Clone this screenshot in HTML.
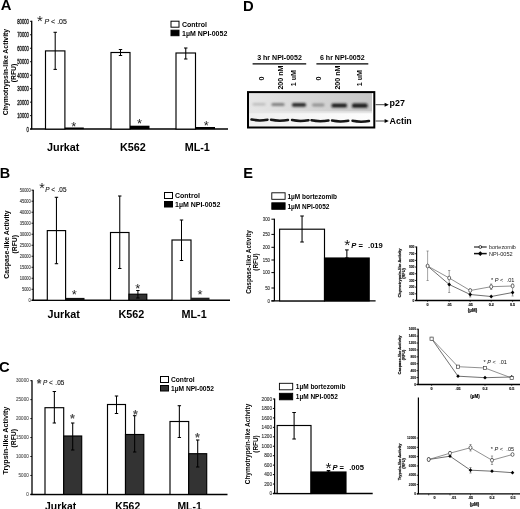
<!DOCTYPE html>
<html><head><meta charset="utf-8"><title>Figure</title>
<style>
html,body{margin:0;padding:0;background:#fff;}
body{width:520px;height:509px;overflow:hidden;font-family:"Liberation Sans",sans-serif;}
svg{display:block;}
</style></head><body>
<svg width="520" height="509" viewBox="0 0 520 509" font-family="Liberation Sans, sans-serif">
<rect width="520" height="509" fill="#fff"/>
<text x="0.75" y="9.9" font-size="14.8" font-weight="bold" font-style="normal" text-anchor="start" fill="#000" >A</text>
<text x="-0.35" y="178.4" font-size="14.4" font-weight="bold" font-style="normal" text-anchor="start" fill="#000" >B</text>
<text x="-1.1" y="371.9" font-size="14.8" font-weight="bold" font-style="normal" text-anchor="start" fill="#000" >C</text>
<text x="242.95" y="10.8" font-size="14.8" font-weight="bold" font-style="normal" text-anchor="start" fill="#000" >D</text>
<text x="243.25" y="178" font-size="14.6" font-weight="bold" font-style="normal" text-anchor="start" fill="#000" >E</text>
<line x1="31.7" y1="20.8" x2="31.7" y2="129.1" stroke="#000" stroke-width="1.3"/>
<line x1="30.2" y1="129.1" x2="228" y2="129.1" stroke="#000" stroke-width="1.5"/>
<line x1="30.0" y1="129.1" x2="31.7" y2="129.1" stroke="#000" stroke-width="0.9"/>
<text transform="translate(28.9,131.62) scale(0.6,1)" font-size="7" font-weight="normal" text-anchor="end" fill="#222" stroke="#222" stroke-width="0.3" vector-effect="non-scaling-stroke">0</text>
<line x1="30.0" y1="115.625" x2="31.7" y2="115.625" stroke="#000" stroke-width="0.9"/>
<text transform="translate(28.9,118.145) scale(0.6,1)" font-size="7" font-weight="normal" text-anchor="end" fill="#222" stroke="#222" stroke-width="0.3" vector-effect="non-scaling-stroke">10000</text>
<line x1="30.0" y1="102.14999999999999" x2="31.7" y2="102.14999999999999" stroke="#000" stroke-width="0.9"/>
<text transform="translate(28.9,104.66999999999999) scale(0.6,1)" font-size="7" font-weight="normal" text-anchor="end" fill="#222" stroke="#222" stroke-width="0.3" vector-effect="non-scaling-stroke">20000</text>
<line x1="30.0" y1="88.675" x2="31.7" y2="88.675" stroke="#000" stroke-width="0.9"/>
<text transform="translate(28.9,91.195) scale(0.6,1)" font-size="7" font-weight="normal" text-anchor="end" fill="#222" stroke="#222" stroke-width="0.3" vector-effect="non-scaling-stroke">30000</text>
<line x1="30.0" y1="75.19999999999999" x2="31.7" y2="75.19999999999999" stroke="#000" stroke-width="0.9"/>
<text transform="translate(28.9,77.71999999999998) scale(0.6,1)" font-size="7" font-weight="normal" text-anchor="end" fill="#222" stroke="#222" stroke-width="0.3" vector-effect="non-scaling-stroke">40000</text>
<line x1="30.0" y1="61.724999999999994" x2="31.7" y2="61.724999999999994" stroke="#000" stroke-width="0.9"/>
<text transform="translate(28.9,64.24499999999999) scale(0.6,1)" font-size="7" font-weight="normal" text-anchor="end" fill="#222" stroke="#222" stroke-width="0.3" vector-effect="non-scaling-stroke">50000</text>
<line x1="30.0" y1="48.25" x2="31.7" y2="48.25" stroke="#000" stroke-width="0.9"/>
<text transform="translate(28.9,50.77) scale(0.6,1)" font-size="7" font-weight="normal" text-anchor="end" fill="#222" stroke="#222" stroke-width="0.3" vector-effect="non-scaling-stroke">60000</text>
<line x1="30.0" y1="34.77499999999999" x2="31.7" y2="34.77499999999999" stroke="#000" stroke-width="0.9"/>
<text transform="translate(28.9,37.294999999999995) scale(0.6,1)" font-size="7" font-weight="normal" text-anchor="end" fill="#222" stroke="#222" stroke-width="0.3" vector-effect="non-scaling-stroke">70000</text>
<line x1="30.0" y1="21.299999999999997" x2="31.7" y2="21.299999999999997" stroke="#000" stroke-width="0.9"/>
<text transform="translate(28.9,23.819999999999997) scale(0.6,1)" font-size="7" font-weight="normal" text-anchor="end" fill="#222" stroke="#222" stroke-width="0.3" vector-effect="non-scaling-stroke">80000</text>
<rect x="45.5" y="50.9" width="19.4" height="78.19999999999999" fill="#fff" stroke="#000" stroke-width="1.15"/>
<line x1="55.2" y1="32.3" x2="55.2" y2="69.4" stroke="#000" stroke-width="1.05"/>
<line x1="53.5" y1="32.3" x2="56.900000000000006" y2="32.3" stroke="#000" stroke-width="1.05"/>
<line x1="53.5" y1="69.4" x2="56.900000000000006" y2="69.4" stroke="#000" stroke-width="1.05"/>
<rect x="64.9" y="127.5" width="18.9" height="1.6" fill="#000"/>
<rect x="111" y="52.5" width="19" height="76.6" fill="#fff" stroke="#000" stroke-width="1.15"/>
<line x1="120.5" y1="49.5" x2="120.5" y2="55.5" stroke="#000" stroke-width="1.05"/>
<line x1="118.8" y1="49.5" x2="122.2" y2="49.5" stroke="#000" stroke-width="1.05"/>
<line x1="118.8" y1="55.5" x2="122.2" y2="55.5" stroke="#000" stroke-width="1.05"/>
<rect x="130" y="125.7" width="19.5" height="3.4" fill="#000"/>
<rect x="176" y="53" width="19.5" height="76.1" fill="#fff" stroke="#000" stroke-width="1.15"/>
<line x1="185.75" y1="48" x2="185.75" y2="59" stroke="#000" stroke-width="1.05"/>
<line x1="184.05" y1="48" x2="187.45" y2="48" stroke="#000" stroke-width="1.05"/>
<line x1="184.05" y1="59" x2="187.45" y2="59" stroke="#000" stroke-width="1.05"/>
<rect x="195.5" y="127.0" width="19.5" height="2.1" fill="#000"/>
<text transform="translate(7.9,72) rotate(-90) scale(0.93,1)" font-size="7.4" font-weight="bold" text-anchor="middle" fill="#000">Chymotrypsin-like Activity</text>
<text transform="translate(15.9,73) rotate(-90) scale(0.93,1)" font-size="7.3" font-weight="bold" text-anchor="middle" fill="#000">(RFU)</text>
<text x="63.25" y="151.2" font-size="10.8" font-weight="bold" font-style="normal" text-anchor="middle" fill="#000" >Jurkat</text>
<text x="132.9" y="151.2" font-size="10.8" font-weight="bold" font-style="normal" text-anchor="middle" fill="#000" >K562</text>
<text x="197.3" y="151.2" font-size="10.8" font-weight="bold" font-style="normal" text-anchor="middle" fill="#000" >ML-1</text>
<rect x="171" y="21.2" width="8" height="6" fill="#fff" stroke="#000" stroke-width="1"/>
<rect x="171" y="30.2" width="8" height="5.5" fill="#000" stroke="#000" stroke-width="1"/>
<text x="182" y="27.0" font-size="7" font-weight="bold" font-style="normal" text-anchor="start" fill="#000" >Control</text>
<text x="182" y="35.7" font-size="7" font-weight="bold" font-style="normal" text-anchor="start" fill="#000" >1µM NPI-0052</text>
<text x="71.18" y="130.83" font-size="12.92" font-weight="normal" fill="#222">*</text>
<text x="136.98" y="127.93" font-size="12.92" font-weight="normal" fill="#222">*</text>
<text x="203.68" y="129.93" font-size="12.92" font-weight="normal" fill="#222">*</text>
<text x="37.0" y="26.24" font-size="14.89" font-weight="normal" fill="#222">*</text>
<text x="44.5" y="24" font-size="7" fill="#111" stroke="#111" stroke-width="0.12"><tspan font-style="italic">P</tspan> &lt; .05</text>
<line x1="33.2" y1="189.7" x2="33.2" y2="300.3" stroke="#000" stroke-width="1.3"/>
<line x1="31.700000000000003" y1="300.3" x2="230" y2="300.3" stroke="#000" stroke-width="1.5"/>
<line x1="31.500000000000004" y1="300.3" x2="33.2" y2="300.3" stroke="#000" stroke-width="0.9"/>
<text transform="translate(30.800000000000004,301.992) scale(0.85,1)" font-size="4.7" font-weight="normal" text-anchor="end" fill="#444" stroke="#444" stroke-width="0.12" vector-effect="non-scaling-stroke">0</text>
<line x1="31.500000000000004" y1="289.29" x2="33.2" y2="289.29" stroke="#000" stroke-width="0.9"/>
<text transform="translate(30.800000000000004,290.982) scale(0.85,1)" font-size="4.7" font-weight="normal" text-anchor="end" fill="#444" stroke="#444" stroke-width="0.12" vector-effect="non-scaling-stroke">5000</text>
<line x1="31.500000000000004" y1="278.28000000000003" x2="33.2" y2="278.28000000000003" stroke="#000" stroke-width="0.9"/>
<text transform="translate(30.800000000000004,279.97200000000004) scale(0.85,1)" font-size="4.7" font-weight="normal" text-anchor="end" fill="#444" stroke="#444" stroke-width="0.12" vector-effect="non-scaling-stroke">10000</text>
<line x1="31.500000000000004" y1="267.27" x2="33.2" y2="267.27" stroke="#000" stroke-width="0.9"/>
<text transform="translate(30.800000000000004,268.962) scale(0.85,1)" font-size="4.7" font-weight="normal" text-anchor="end" fill="#444" stroke="#444" stroke-width="0.12" vector-effect="non-scaling-stroke">15000</text>
<line x1="31.500000000000004" y1="256.26" x2="33.2" y2="256.26" stroke="#000" stroke-width="0.9"/>
<text transform="translate(30.800000000000004,257.952) scale(0.85,1)" font-size="4.7" font-weight="normal" text-anchor="end" fill="#444" stroke="#444" stroke-width="0.12" vector-effect="non-scaling-stroke">20000</text>
<line x1="31.500000000000004" y1="245.25" x2="33.2" y2="245.25" stroke="#000" stroke-width="0.9"/>
<text transform="translate(30.800000000000004,246.942) scale(0.85,1)" font-size="4.7" font-weight="normal" text-anchor="end" fill="#444" stroke="#444" stroke-width="0.12" vector-effect="non-scaling-stroke">25000</text>
<line x1="31.500000000000004" y1="234.24" x2="33.2" y2="234.24" stroke="#000" stroke-width="0.9"/>
<text transform="translate(30.800000000000004,235.93200000000002) scale(0.85,1)" font-size="4.7" font-weight="normal" text-anchor="end" fill="#444" stroke="#444" stroke-width="0.12" vector-effect="non-scaling-stroke">30000</text>
<line x1="31.500000000000004" y1="223.23000000000002" x2="33.2" y2="223.23000000000002" stroke="#000" stroke-width="0.9"/>
<text transform="translate(30.800000000000004,224.92200000000003) scale(0.85,1)" font-size="4.7" font-weight="normal" text-anchor="end" fill="#444" stroke="#444" stroke-width="0.12" vector-effect="non-scaling-stroke">35000</text>
<line x1="31.500000000000004" y1="212.22" x2="33.2" y2="212.22" stroke="#000" stroke-width="0.9"/>
<text transform="translate(30.800000000000004,213.912) scale(0.85,1)" font-size="4.7" font-weight="normal" text-anchor="end" fill="#444" stroke="#444" stroke-width="0.12" vector-effect="non-scaling-stroke">40000</text>
<line x1="31.500000000000004" y1="201.20999999999998" x2="33.2" y2="201.20999999999998" stroke="#000" stroke-width="0.9"/>
<text transform="translate(30.800000000000004,202.902) scale(0.85,1)" font-size="4.7" font-weight="normal" text-anchor="end" fill="#444" stroke="#444" stroke-width="0.12" vector-effect="non-scaling-stroke">45000</text>
<line x1="31.500000000000004" y1="190.2" x2="33.2" y2="190.2" stroke="#000" stroke-width="0.9"/>
<text transform="translate(30.800000000000004,191.892) scale(0.85,1)" font-size="4.7" font-weight="normal" text-anchor="end" fill="#444" stroke="#444" stroke-width="0.12" vector-effect="non-scaling-stroke">50000</text>
<rect x="47.3" y="230.6" width="18.3" height="69.70000000000002" fill="#fff" stroke="#000" stroke-width="1.15"/>
<line x1="56.449999999999996" y1="197.3" x2="56.449999999999996" y2="263.7" stroke="#000" stroke-width="1.05"/>
<line x1="54.74999999999999" y1="197.3" x2="58.15" y2="197.3" stroke="#000" stroke-width="1.05"/>
<line x1="54.74999999999999" y1="263.7" x2="58.15" y2="263.7" stroke="#000" stroke-width="1.05"/>
<rect x="65.6" y="297.9" width="18.9" height="2.4" fill="#111"/>
<rect x="110.5" y="232.5" width="18.5" height="67.80000000000001" fill="#fff" stroke="#000" stroke-width="1.15"/>
<line x1="119.75" y1="196" x2="119.75" y2="268.5" stroke="#000" stroke-width="1.05"/>
<line x1="118.05" y1="196" x2="121.45" y2="196" stroke="#000" stroke-width="1.05"/>
<line x1="118.05" y1="268.5" x2="121.45" y2="268.5" stroke="#000" stroke-width="1.05"/>
<rect x="129" y="294.2" width="17.8" height="6.100000000000023" fill="#333" stroke="#000" stroke-width="1.15"/>
<line x1="137.9" y1="290.5" x2="137.9" y2="298" stroke="#000" stroke-width="1.05"/>
<line x1="136.20000000000002" y1="290.5" x2="139.6" y2="290.5" stroke="#000" stroke-width="1.05"/>
<line x1="136.20000000000002" y1="298" x2="139.6" y2="298" stroke="#000" stroke-width="1.05"/>
<rect x="172" y="240" width="19" height="60.30000000000001" fill="#fff" stroke="#000" stroke-width="1.15"/>
<line x1="181.5" y1="220" x2="181.5" y2="260.5" stroke="#000" stroke-width="1.05"/>
<line x1="179.8" y1="220" x2="183.2" y2="220" stroke="#000" stroke-width="1.05"/>
<line x1="179.8" y1="260.5" x2="183.2" y2="260.5" stroke="#000" stroke-width="1.05"/>
<rect x="191" y="297.7" width="18.5" height="2.6" fill="#222"/>
<text transform="translate(9.2,244.6) rotate(-90) scale(0.93,1)" font-size="7.4" font-weight="bold" text-anchor="middle" fill="#000">Caspase-like Activity</text>
<text transform="translate(16.8,244.3) rotate(-90) scale(0.93,1)" font-size="7.3" font-weight="bold" text-anchor="middle" fill="#000">(RFU)</text>
<text x="63.6" y="318.2" font-size="10.8" font-weight="bold" font-style="normal" text-anchor="middle" fill="#000" >Jurkat</text>
<text x="131.3" y="318.2" font-size="10.8" font-weight="bold" font-style="normal" text-anchor="middle" fill="#000" >K562</text>
<text x="194.1" y="318.2" font-size="10.8" font-weight="bold" font-style="normal" text-anchor="middle" fill="#000" >ML-1</text>
<rect x="164.5" y="192.5" width="8" height="6" fill="#fff" stroke="#000" stroke-width="1"/>
<rect x="164.5" y="201.5" width="8" height="5.5" fill="#000" stroke="#000" stroke-width="1"/>
<text x="175" y="198.3" font-size="7" font-weight="bold" font-style="normal" text-anchor="start" fill="#000" >Control</text>
<text x="175" y="207" font-size="7" font-weight="bold" font-style="normal" text-anchor="start" fill="#000" >1µM NPI-0052</text>
<text x="71.68" y="299.13" font-size="12.92" font-weight="normal" fill="#222">*</text>
<text x="135.28" y="292.63" font-size="12.92" font-weight="normal" fill="#222">*</text>
<text x="197.48" y="298.63" font-size="12.92" font-weight="normal" fill="#222">*</text>
<text x="39.36" y="193.3" font-size="14.04" font-weight="normal" fill="#222">*</text>
<text x="45.2" y="192.2" font-size="6.4" fill="#111" stroke="#111" stroke-width="0.12"><tspan font-style="italic">P</tspan> &lt; <tspan dx="0.8">.05</tspan></text>
<line x1="32" y1="380.2" x2="32" y2="494.4" stroke="#000" stroke-width="1.3"/>
<line x1="30.5" y1="494.4" x2="227.5" y2="494.4" stroke="#000" stroke-width="1.5"/>
<line x1="30.3" y1="494.4" x2="32" y2="494.4" stroke="#000" stroke-width="0.9"/>
<text transform="translate(28.7,496.164) scale(0.93,1)" font-size="4.9" font-weight="normal" text-anchor="end" fill="#555" stroke="#555" stroke-width="0.12" vector-effect="non-scaling-stroke">0</text>
<line x1="30.3" y1="475.45" x2="32" y2="475.45" stroke="#000" stroke-width="0.9"/>
<text transform="translate(28.7,477.214) scale(0.93,1)" font-size="4.9" font-weight="normal" text-anchor="end" fill="#555" stroke="#555" stroke-width="0.12" vector-effect="non-scaling-stroke">5000</text>
<line x1="30.3" y1="456.5" x2="32" y2="456.5" stroke="#000" stroke-width="0.9"/>
<text transform="translate(28.7,458.264) scale(0.93,1)" font-size="4.9" font-weight="normal" text-anchor="end" fill="#555" stroke="#555" stroke-width="0.12" vector-effect="non-scaling-stroke">10000</text>
<line x1="30.3" y1="437.54999999999995" x2="32" y2="437.54999999999995" stroke="#000" stroke-width="0.9"/>
<text transform="translate(28.7,439.31399999999996) scale(0.93,1)" font-size="4.9" font-weight="normal" text-anchor="end" fill="#555" stroke="#555" stroke-width="0.12" vector-effect="non-scaling-stroke">15000</text>
<line x1="30.3" y1="418.59999999999997" x2="32" y2="418.59999999999997" stroke="#000" stroke-width="0.9"/>
<text transform="translate(28.7,420.364) scale(0.93,1)" font-size="4.9" font-weight="normal" text-anchor="end" fill="#555" stroke="#555" stroke-width="0.12" vector-effect="non-scaling-stroke">20000</text>
<line x1="30.3" y1="399.65" x2="32" y2="399.65" stroke="#000" stroke-width="0.9"/>
<text transform="translate(28.7,401.414) scale(0.93,1)" font-size="4.9" font-weight="normal" text-anchor="end" fill="#555" stroke="#555" stroke-width="0.12" vector-effect="non-scaling-stroke">25000</text>
<line x1="30.3" y1="380.7" x2="32" y2="380.7" stroke="#000" stroke-width="0.9"/>
<text transform="translate(28.7,382.464) scale(0.93,1)" font-size="4.9" font-weight="normal" text-anchor="end" fill="#555" stroke="#555" stroke-width="0.12" vector-effect="non-scaling-stroke">30000</text>
<rect x="45" y="407.7" width="18.7" height="86.69999999999999" fill="#fff" stroke="#000" stroke-width="1.15"/>
<line x1="54.35" y1="391.5" x2="54.35" y2="423" stroke="#000" stroke-width="1.05"/>
<line x1="52.65" y1="391.5" x2="56.050000000000004" y2="391.5" stroke="#000" stroke-width="1.05"/>
<line x1="52.65" y1="423" x2="56.050000000000004" y2="423" stroke="#000" stroke-width="1.05"/>
<rect x="63.7" y="436" width="18" height="58.39999999999998" fill="#333" stroke="#000" stroke-width="1.15"/>
<line x1="72.7" y1="423" x2="72.7" y2="450" stroke="#000" stroke-width="1.05"/>
<line x1="71.0" y1="423" x2="74.4" y2="423" stroke="#000" stroke-width="1.05"/>
<line x1="71.0" y1="450" x2="74.4" y2="450" stroke="#000" stroke-width="1.05"/>
<rect x="107.5" y="404.5" width="18" height="89.89999999999998" fill="#fff" stroke="#000" stroke-width="1.15"/>
<line x1="116.5" y1="396" x2="116.5" y2="413.5" stroke="#000" stroke-width="1.05"/>
<line x1="114.8" y1="396" x2="118.2" y2="396" stroke="#000" stroke-width="1.05"/>
<line x1="114.8" y1="413.5" x2="118.2" y2="413.5" stroke="#000" stroke-width="1.05"/>
<rect x="125.5" y="434.5" width="18.3" height="59.89999999999998" fill="#333" stroke="#000" stroke-width="1.15"/>
<line x1="134.65" y1="415.7" x2="134.65" y2="452" stroke="#000" stroke-width="1.05"/>
<line x1="132.95000000000002" y1="415.7" x2="136.35" y2="415.7" stroke="#000" stroke-width="1.05"/>
<line x1="132.95000000000002" y1="452" x2="136.35" y2="452" stroke="#000" stroke-width="1.05"/>
<rect x="170" y="421.5" width="18.7" height="72.89999999999998" fill="#fff" stroke="#000" stroke-width="1.15"/>
<line x1="179.35" y1="405.7" x2="179.35" y2="437.5" stroke="#000" stroke-width="1.05"/>
<line x1="177.65" y1="405.7" x2="181.04999999999998" y2="405.7" stroke="#000" stroke-width="1.05"/>
<line x1="177.65" y1="437.5" x2="181.04999999999998" y2="437.5" stroke="#000" stroke-width="1.05"/>
<rect x="188.7" y="453.7" width="18" height="40.69999999999999" fill="#333" stroke="#000" stroke-width="1.15"/>
<line x1="197.7" y1="440" x2="197.7" y2="467" stroke="#000" stroke-width="1.05"/>
<line x1="196.0" y1="440" x2="199.39999999999998" y2="440" stroke="#000" stroke-width="1.05"/>
<line x1="196.0" y1="467" x2="199.39999999999998" y2="467" stroke="#000" stroke-width="1.05"/>
<text transform="translate(8.2,440.6) rotate(-90) scale(0.975,1)" font-size="7.4" font-weight="bold" text-anchor="middle" fill="#000">Trypsin-like Activity</text>
<text transform="translate(16.4,438.3) rotate(-90) scale(0.93,1)" font-size="7.3" font-weight="bold" text-anchor="middle" fill="#000">(RFU)</text>
<text x="60.6" y="509.6" font-size="10.4" font-weight="bold" font-style="normal" text-anchor="middle" fill="#000" >Jurkat</text>
<text x="127.75" y="509.6" font-size="10.4" font-weight="bold" font-style="normal" text-anchor="middle" fill="#000" >K562</text>
<text x="189.6" y="509.6" font-size="10.4" font-weight="bold" font-style="normal" text-anchor="middle" fill="#000" >ML-1</text>
<rect x="160.5" y="376.5" width="8" height="6" fill="#fff" stroke="#000" stroke-width="1"/>
<rect x="160.5" y="385.5" width="8" height="5.5" fill="#333" stroke="#000" stroke-width="1"/>
<text x="171" y="382.3" font-size="6.65" font-weight="bold" font-style="normal" text-anchor="start" fill="#000" >Control</text>
<text x="171" y="391" font-size="6.65" font-weight="bold" font-style="normal" text-anchor="start" fill="#000" >1µM NPI-0052</text>
<text x="70.06" y="422.88" font-size="12.5" font-weight="bold" fill="#555">*</text>
<text x="133.06" y="419.28" font-size="12.5" font-weight="bold" fill="#555">*</text>
<text x="195.06" y="441.78" font-size="12.5" font-weight="bold" fill="#555">*</text>
<text x="36.66" y="387.62" font-size="11.98" font-weight="bold" fill="#444">*</text>
<text x="43" y="385.2" font-size="6.4" fill="#111" stroke="#111" stroke-width="0.12"><tspan font-style="italic">P</tspan> &lt; <tspan dx="0.8">.05</tspan></text>
<defs><linearGradient id="bg" x1="0" x2="1" y1="0" y2="0"><stop offset="0" stop-color="#e6e6e6"/><stop offset="0.5" stop-color="#d6d6d6"/><stop offset="1" stop-color="#c6c6c6"/></linearGradient><linearGradient id="bg2" x1="0" x2="1" y1="0" y2="0"><stop offset="0" stop-color="#f0f0f0"/><stop offset="1" stop-color="#fdfdfd"/></linearGradient><filter id="bl" x="-20%" y="-100%" width="140%" height="300%"><feGaussianBlur stdDeviation="1.2 0.85"/></filter><filter id="bl2" x="-20%" y="-100%" width="140%" height="300%"><feGaussianBlur stdDeviation="0.7 0.4"/></filter></defs>
<rect x="248" y="92.5" width="126" height="35" fill="#fff"/>
<rect x="249" y="93" width="123" height="19.3" fill="url(#bg)"/>
<rect x="249" y="112.3" width="123" height="14.5" fill="url(#bg2)"/>
<rect x="249" y="111.3" width="123" height="2" fill="#e6e6e6" filter="url(#bl2)"/>
<g filter="url(#bl)">
<rect x="252.5" y="103.0" width="13.100000000000023" height="2.6" rx="1.5" fill="#bcbcbc"/>
<rect x="271.4" y="102.9" width="13.200000000000045" height="3" rx="1.5" fill="#808080"/>
<rect x="292" y="102.89999999999999" width="14" height="3.8" rx="1.5" fill="#2a2a2a"/>
<rect x="312" y="103.6" width="12.5" height="2.8" rx="1.5" fill="#909090"/>
<rect x="331.5" y="103.4" width="15.5" height="4" rx="1.5" fill="#1e1e1e"/>
<rect x="352" y="103.5" width="15.600000000000023" height="4.2" rx="1.5" fill="#1a1a1a"/>
</g>
<g filter="url(#bl2)" fill="none" stroke="#161616" stroke-width="2.5" stroke-linecap="round">
<path d="M251.5 119.6 Q259.5 121.2 267.5 119.7"/>
<path d="M271 119.84 Q279.5 121.44 288 119.94"/>
<path d="M292 120.08 Q300.25 121.68 308.5 120.18"/>
<path d="M311.5 120.32 Q320.0 121.92 328.5 120.42"/>
<path d="M332 120.56 Q340.15 122.16 348.3 120.66"/>
<path d="M352.5 120.8 Q360.75 122.4 369 120.9"/>
</g>
<rect x="248" y="92.1" width="126.3" height="35.4" fill="none" stroke="#000" stroke-width="2"/>
<text x="279.5" y="60.2" font-size="7.05" font-weight="bold" font-style="normal" text-anchor="middle" fill="#000" >3 hr NPI-0052</text>
<text x="342.3" y="60.2" font-size="7.05" font-weight="bold" font-style="normal" text-anchor="middle" fill="#000" >6 hr NPI-0052</text>
<line x1="252.6" y1="63.8" x2="306.2" y2="63.8" stroke="#000" stroke-width="1.3"/>
<line x1="316.4" y1="63.8" x2="368.3" y2="63.8" stroke="#000" stroke-width="1.3"/>
<text transform="translate(263.5,80.5) rotate(-90)" font-size="7.1" font-weight="bold">0</text>
<text transform="translate(282.8,89.6) rotate(-90)" font-size="7.1" font-weight="bold">200 nM</text>
<text transform="translate(296,86.2) rotate(-90)" font-size="7.1" font-weight="bold">1 uM</text>
<text transform="translate(320.8,80.5) rotate(-90)" font-size="7.1" font-weight="bold">0</text>
<text transform="translate(339.5,89.6) rotate(-90)" font-size="7.1" font-weight="bold">200 nM</text>
<text transform="translate(361.7,86.2) rotate(-90)" font-size="7.1" font-weight="bold">1 uM</text>
<line x1="375.5" y1="104.7" x2="385" y2="104.7" stroke="#444" stroke-width="1"/>
<polygon points="388.8,104.7 384.6,102.7 384.6,106.7" fill="#000"/>
<line x1="375.5" y1="121" x2="385" y2="121" stroke="#444" stroke-width="1"/>
<polygon points="388.8,121 384.6,119 384.6,123" fill="#000"/>
<text x="389.6" y="105.9" font-size="8.9" font-weight="bold" font-style="normal" text-anchor="start" fill="#000" >p27</text>
<text x="389.6" y="124" font-size="8.9" font-weight="bold" font-style="normal" text-anchor="start" fill="#000" >Actin</text>
<line x1="274.4" y1="218.7" x2="274.4" y2="300.9" stroke="#000" stroke-width="1.25"/>
<line x1="271.4" y1="300.9" x2="375.6" y2="300.9" stroke="#000" stroke-width="1.3"/>
<line x1="271.4" y1="300.9" x2="274.4" y2="300.9" stroke="#000" stroke-width="1"/>
<text transform="translate(270.0,302.628) scale(0.9,1)" font-size="4.8" font-weight="normal" text-anchor="end" fill="#333" stroke="#333" stroke-width="0.12" vector-effect="non-scaling-stroke">0</text>
<line x1="271.4" y1="288" x2="274.4" y2="288" stroke="#000" stroke-width="1"/>
<text transform="translate(270.0,289.728) scale(0.9,1)" font-size="4.8" font-weight="normal" text-anchor="end" fill="#333" stroke="#333" stroke-width="0.12" vector-effect="non-scaling-stroke">50</text>
<line x1="271.4" y1="272.6" x2="274.4" y2="272.6" stroke="#000" stroke-width="1"/>
<text transform="translate(270.0,274.32800000000003) scale(0.9,1)" font-size="4.8" font-weight="normal" text-anchor="end" fill="#333" stroke="#333" stroke-width="0.12" vector-effect="non-scaling-stroke">100</text>
<line x1="271.4" y1="260" x2="274.4" y2="260" stroke="#000" stroke-width="1"/>
<text transform="translate(270.0,261.728) scale(0.9,1)" font-size="4.8" font-weight="normal" text-anchor="end" fill="#333" stroke="#333" stroke-width="0.12" vector-effect="non-scaling-stroke">150</text>
<line x1="271.4" y1="247.3" x2="274.4" y2="247.3" stroke="#000" stroke-width="1"/>
<text transform="translate(270.0,249.02800000000002) scale(0.9,1)" font-size="4.8" font-weight="normal" text-anchor="end" fill="#333" stroke="#333" stroke-width="0.12" vector-effect="non-scaling-stroke">200</text>
<line x1="271.4" y1="234.4" x2="274.4" y2="234.4" stroke="#000" stroke-width="1"/>
<text transform="translate(270.0,236.12800000000001) scale(0.9,1)" font-size="4.8" font-weight="normal" text-anchor="end" fill="#333" stroke="#333" stroke-width="0.12" vector-effect="non-scaling-stroke">250</text>
<line x1="271.4" y1="219.2" x2="274.4" y2="219.2" stroke="#000" stroke-width="1"/>
<text transform="translate(270.0,220.928) scale(0.9,1)" font-size="4.8" font-weight="normal" text-anchor="end" fill="#333" stroke="#333" stroke-width="0.12" vector-effect="non-scaling-stroke">300</text>
<rect x="279.6" y="229.2" width="44.9" height="71.69999999999999" fill="#fff" stroke="#000" stroke-width="1.15"/>
<line x1="302.05" y1="216" x2="302.05" y2="242" stroke="#000" stroke-width="1.05"/>
<line x1="300.25" y1="216" x2="303.85" y2="216" stroke="#000" stroke-width="1.05"/>
<line x1="300.25" y1="242" x2="303.85" y2="242" stroke="#000" stroke-width="1.05"/>
<rect x="324.5" y="258" width="44.7" height="42.89999999999998" fill="#000" stroke="#000" stroke-width="1.15"/>
<line x1="346.85" y1="249.9" x2="346.85" y2="258" stroke="#000" stroke-width="1.05"/>
<line x1="345.05" y1="249.9" x2="348.65000000000003" y2="249.9" stroke="#000" stroke-width="1.05"/>
<line x1="345.05" y1="258" x2="348.65000000000003" y2="258" stroke="#000" stroke-width="1.05"/>
<text transform="translate(250.6,262) rotate(-90)" font-size="6.4" font-weight="bold" text-anchor="middle" fill="#000">Caspase-like Activity</text>
<text transform="translate(258.2,262) rotate(-90)" font-size="6.4" font-weight="bold" text-anchor="middle" fill="#000">(RFU)</text>
<rect x="271.8" y="192.8" width="13.3" height="6.5" fill="#fff" stroke="#000" stroke-width="0.9"/>
<rect x="271.8" y="202.8" width="13.3" height="6.5" fill="#000" stroke="#000" stroke-width="0.9"/>
<text x="287.4" y="198.60000000000002" font-size="6.5" font-weight="bold" font-style="normal" text-anchor="start" fill="#000" >1µM bortezomib</text>
<text x="287.4" y="208.60000000000002" font-size="6.5" font-weight="bold" font-style="normal" text-anchor="start" fill="#000" >1µM NPI-0052</text>
<text x="344.29" y="250.33" font-size="15.45" font-weight="normal" fill="#111">*</text>
<text x="351.3" y="247.6" font-size="7.6" font-weight="bold"><tspan font-style="italic">P</tspan> = <tspan dx="3">.019</tspan></text>
<line x1="274.6" y1="398.5" x2="274.6" y2="493.5" stroke="#000" stroke-width="1.25"/>
<line x1="272.90000000000003" y1="493.5" x2="372.7" y2="493.5" stroke="#000" stroke-width="1.3"/>
<line x1="272.90000000000003" y1="493.5" x2="274.6" y2="493.5" stroke="#000" stroke-width="1"/>
<text transform="translate(272.0,495.192) scale(1.0,1)" font-size="4.7" font-weight="normal" text-anchor="end" fill="#333" stroke="#333" stroke-width="0.12" vector-effect="non-scaling-stroke">0</text>
<line x1="272.90000000000003" y1="484.05" x2="274.6" y2="484.05" stroke="#000" stroke-width="1"/>
<text transform="translate(272.0,485.742) scale(1.0,1)" font-size="4.7" font-weight="normal" text-anchor="end" fill="#333" stroke="#333" stroke-width="0.12" vector-effect="non-scaling-stroke">200</text>
<line x1="272.90000000000003" y1="474.6" x2="274.6" y2="474.6" stroke="#000" stroke-width="1"/>
<text transform="translate(272.0,476.29200000000003) scale(1.0,1)" font-size="4.7" font-weight="normal" text-anchor="end" fill="#333" stroke="#333" stroke-width="0.12" vector-effect="non-scaling-stroke">400</text>
<line x1="272.90000000000003" y1="465.15" x2="274.6" y2="465.15" stroke="#000" stroke-width="1"/>
<text transform="translate(272.0,466.842) scale(1.0,1)" font-size="4.7" font-weight="normal" text-anchor="end" fill="#333" stroke="#333" stroke-width="0.12" vector-effect="non-scaling-stroke">600</text>
<line x1="272.90000000000003" y1="455.7" x2="274.6" y2="455.7" stroke="#000" stroke-width="1"/>
<text transform="translate(272.0,457.392) scale(1.0,1)" font-size="4.7" font-weight="normal" text-anchor="end" fill="#333" stroke="#333" stroke-width="0.12" vector-effect="non-scaling-stroke">800</text>
<line x1="272.90000000000003" y1="446.25" x2="274.6" y2="446.25" stroke="#000" stroke-width="1"/>
<text transform="translate(272.0,447.942) scale(1.0,1)" font-size="4.7" font-weight="normal" text-anchor="end" fill="#333" stroke="#333" stroke-width="0.12" vector-effect="non-scaling-stroke">1000</text>
<line x1="272.90000000000003" y1="436.8" x2="274.6" y2="436.8" stroke="#000" stroke-width="1"/>
<text transform="translate(272.0,438.492) scale(1.0,1)" font-size="4.7" font-weight="normal" text-anchor="end" fill="#333" stroke="#333" stroke-width="0.12" vector-effect="non-scaling-stroke">1200</text>
<line x1="272.90000000000003" y1="427.35" x2="274.6" y2="427.35" stroke="#000" stroke-width="1"/>
<text transform="translate(272.0,429.04200000000003) scale(1.0,1)" font-size="4.7" font-weight="normal" text-anchor="end" fill="#333" stroke="#333" stroke-width="0.12" vector-effect="non-scaling-stroke">1400</text>
<line x1="272.90000000000003" y1="417.9" x2="274.6" y2="417.9" stroke="#000" stroke-width="1"/>
<text transform="translate(272.0,419.592) scale(1.0,1)" font-size="4.7" font-weight="normal" text-anchor="end" fill="#333" stroke="#333" stroke-width="0.12" vector-effect="non-scaling-stroke">1600</text>
<line x1="272.90000000000003" y1="408.45" x2="274.6" y2="408.45" stroke="#000" stroke-width="1"/>
<text transform="translate(272.0,410.142) scale(1.0,1)" font-size="4.7" font-weight="normal" text-anchor="end" fill="#333" stroke="#333" stroke-width="0.12" vector-effect="non-scaling-stroke">1800</text>
<line x1="272.90000000000003" y1="399.0" x2="274.6" y2="399.0" stroke="#000" stroke-width="1"/>
<text transform="translate(272.0,400.692) scale(1.0,1)" font-size="4.7" font-weight="normal" text-anchor="end" fill="#333" stroke="#333" stroke-width="0.12" vector-effect="non-scaling-stroke">2000</text>
<rect x="277.2" y="425.5" width="33.8" height="68.0" fill="#fff" stroke="#000" stroke-width="1.15"/>
<line x1="294.09999999999997" y1="412.5" x2="294.09999999999997" y2="439" stroke="#000" stroke-width="1.05"/>
<line x1="292.29999999999995" y1="412.5" x2="295.9" y2="412.5" stroke="#000" stroke-width="1.05"/>
<line x1="292.29999999999995" y1="439" x2="295.9" y2="439" stroke="#000" stroke-width="1.05"/>
<rect x="311" y="472" width="35" height="21.5" fill="#000" stroke="#000" stroke-width="1.15"/>
<line x1="328.5" y1="470.5" x2="328.5" y2="472" stroke="#000" stroke-width="1.05"/>
<line x1="326.7" y1="470.5" x2="330.3" y2="470.5" stroke="#000" stroke-width="1.05"/>
<line x1="326.7" y1="472" x2="330.3" y2="472" stroke="#000" stroke-width="1.05"/>
<text transform="translate(250.4,444) rotate(-90)" font-size="6.4" font-weight="bold" text-anchor="middle" fill="#000">Chymotrypsin-like Activity</text>
<text transform="translate(258.2,444) rotate(-90)" font-size="6.4" font-weight="bold" text-anchor="middle" fill="#000">(RFU)</text>
<rect x="279.4" y="383.3" width="13.3" height="6.5" fill="#fff" stroke="#000" stroke-width="0.9"/>
<rect x="279.4" y="393.3" width="13.3" height="6.5" fill="#000" stroke="#000" stroke-width="0.9"/>
<text x="295.8" y="389.1" font-size="6.5" font-weight="bold" font-style="normal" text-anchor="start" fill="#000" >1µM bortezomib</text>
<text x="295.8" y="399.1" font-size="6.5" font-weight="bold" font-style="normal" text-anchor="start" fill="#000" >1µM NPI-0052</text>
<text x="325.39" y="472.53" font-size="15.45" font-weight="normal" fill="#111">*</text>
<text x="332.40000000000003" y="469.8" font-size="7.6" font-weight="bold"><tspan font-style="italic">P</tspan> = <tspan dx="3">.005</tspan></text>
<line x1="416.6" y1="246.6" x2="416.6" y2="300.5" stroke="#000" stroke-width="1.2"/>
<line x1="415.1" y1="300.5" x2="520" y2="300.5" stroke="#000" stroke-width="1.3"/>
<line x1="414.90000000000003" y1="300.5" x2="416.6" y2="300.5" stroke="#000" stroke-width="0.8"/>
<text x="414.40000000000003" y="301.7" font-size="3.3" font-weight="bold" font-style="normal" text-anchor="end" fill="#222" stroke="#222" stroke-width="0.12">0</text>
<line x1="414.90000000000003" y1="293.8125" x2="416.6" y2="293.8125" stroke="#000" stroke-width="0.8"/>
<text x="414.40000000000003" y="295.0125" font-size="3.3" font-weight="bold" font-style="normal" text-anchor="end" fill="#222" stroke="#222" stroke-width="0.12">100</text>
<line x1="414.90000000000003" y1="287.125" x2="416.6" y2="287.125" stroke="#000" stroke-width="0.8"/>
<text x="414.40000000000003" y="288.325" font-size="3.3" font-weight="bold" font-style="normal" text-anchor="end" fill="#222" stroke="#222" stroke-width="0.12">200</text>
<line x1="414.90000000000003" y1="280.4375" x2="416.6" y2="280.4375" stroke="#000" stroke-width="0.8"/>
<text x="414.40000000000003" y="281.6375" font-size="3.3" font-weight="bold" font-style="normal" text-anchor="end" fill="#222" stroke="#222" stroke-width="0.12">300</text>
<line x1="414.90000000000003" y1="273.75" x2="416.6" y2="273.75" stroke="#000" stroke-width="0.8"/>
<text x="414.40000000000003" y="274.95" font-size="3.3" font-weight="bold" font-style="normal" text-anchor="end" fill="#222" stroke="#222" stroke-width="0.12">400</text>
<line x1="414.90000000000003" y1="267.0625" x2="416.6" y2="267.0625" stroke="#000" stroke-width="0.8"/>
<text x="414.40000000000003" y="268.2625" font-size="3.3" font-weight="bold" font-style="normal" text-anchor="end" fill="#222" stroke="#222" stroke-width="0.12">500</text>
<line x1="414.90000000000003" y1="260.375" x2="416.6" y2="260.375" stroke="#000" stroke-width="0.8"/>
<text x="414.40000000000003" y="261.575" font-size="3.3" font-weight="bold" font-style="normal" text-anchor="end" fill="#222" stroke="#222" stroke-width="0.12">600</text>
<line x1="414.90000000000003" y1="253.6875" x2="416.6" y2="253.6875" stroke="#000" stroke-width="0.8"/>
<text x="414.40000000000003" y="254.8875" font-size="3.3" font-weight="bold" font-style="normal" text-anchor="end" fill="#222" stroke="#222" stroke-width="0.12">700</text>
<line x1="414.90000000000003" y1="247.0" x2="416.6" y2="247.0" stroke="#000" stroke-width="0.8"/>
<text x="414.40000000000003" y="248.2" font-size="3.3" font-weight="bold" font-style="normal" text-anchor="end" fill="#222" stroke="#222" stroke-width="0.12">800</text>
<line x1="427.6" y1="300.5" x2="427.6" y2="302.0" stroke="#000" stroke-width="0.6"/>
<text x="427.6" y="305.8" font-size="3.7" font-weight="bold" font-style="normal" text-anchor="middle" fill="#111" stroke="#111" stroke-width="0.15">0</text>
<line x1="449.2" y1="300.5" x2="449.2" y2="302.0" stroke="#000" stroke-width="0.6"/>
<text x="449.2" y="305.8" font-size="3.7" font-weight="bold" font-style="normal" text-anchor="middle" fill="#111" stroke="#111" stroke-width="0.15">.01</text>
<line x1="470.2" y1="300.5" x2="470.2" y2="302.0" stroke="#000" stroke-width="0.6"/>
<text x="470.2" y="305.8" font-size="3.7" font-weight="bold" font-style="normal" text-anchor="middle" fill="#111" stroke="#111" stroke-width="0.15">.05</text>
<line x1="491.2" y1="300.5" x2="491.2" y2="302.0" stroke="#000" stroke-width="0.6"/>
<text x="491.2" y="305.8" font-size="3.7" font-weight="bold" font-style="normal" text-anchor="middle" fill="#111" stroke="#111" stroke-width="0.15">0.2</text>
<line x1="512.6" y1="300.5" x2="512.6" y2="302.0" stroke="#000" stroke-width="0.6"/>
<text x="512.6" y="305.8" font-size="3.7" font-weight="bold" font-style="normal" text-anchor="middle" fill="#111" stroke="#111" stroke-width="0.15">0.5</text>
<text x="472.5" y="312" font-size="4.5" font-weight="bold" font-style="normal" text-anchor="middle" fill="#000" stroke="#000" stroke-width="0.15">(µM)</text>
<line x1="427.6" y1="251" x2="427.6" y2="280.5" stroke="#666" stroke-width="0.6"/>
<line x1="426.5" y1="251" x2="428.70000000000005" y2="251" stroke="#666" stroke-width="0.6"/>
<line x1="426.5" y1="280.5" x2="428.70000000000005" y2="280.5" stroke="#666" stroke-width="0.6"/>
<line x1="449.2" y1="270.5" x2="449.2" y2="292.5" stroke="#666" stroke-width="0.6"/>
<line x1="448.09999999999997" y1="270.5" x2="450.3" y2="270.5" stroke="#666" stroke-width="0.6"/>
<line x1="448.09999999999997" y1="292.5" x2="450.3" y2="292.5" stroke="#666" stroke-width="0.6"/>
<line x1="470.2" y1="289" x2="470.2" y2="297" stroke="#666" stroke-width="0.6"/>
<line x1="469.09999999999997" y1="289" x2="471.3" y2="289" stroke="#666" stroke-width="0.6"/>
<line x1="469.09999999999997" y1="297" x2="471.3" y2="297" stroke="#666" stroke-width="0.6"/>
<line x1="491.2" y1="284" x2="491.2" y2="289.5" stroke="#666" stroke-width="0.6"/>
<line x1="490.09999999999997" y1="284" x2="492.3" y2="284" stroke="#666" stroke-width="0.6"/>
<line x1="490.09999999999997" y1="289.5" x2="492.3" y2="289.5" stroke="#666" stroke-width="0.6"/>
<line x1="512.6" y1="284" x2="512.6" y2="296" stroke="#666" stroke-width="0.6"/>
<line x1="511.5" y1="284" x2="513.7" y2="284" stroke="#666" stroke-width="0.6"/>
<line x1="511.5" y1="296" x2="513.7" y2="296" stroke="#666" stroke-width="0.6"/>
<polyline fill="none" stroke="#858585" stroke-width="0.9" points="427.6,266 449.2,278 470.2,290.5 491.2,286.7 512.6,286"/>
<polyline fill="none" stroke="#606060" stroke-width="0.9" points="427.6,266 449.2,284.5 470.2,294.5 491.2,296.5 512.6,292.5"/>
<polygon points="425.8,266 427.6,264.1 429.40000000000003,266 427.6,267.9" fill="#000"/>
<polygon points="447.4,284.5 449.2,282.6 451.0,284.5 449.2,286.4" fill="#000"/>
<polygon points="468.4,294.5 470.2,292.6 472.0,294.5 470.2,296.4" fill="#000"/>
<polygon points="489.4,296.5 491.2,294.6 493.0,296.5 491.2,298.4" fill="#000"/>
<polygon points="510.8,292.5 512.6,290.6 514.4,292.5 512.6,294.4" fill="#000"/>
<ellipse cx="427.6" cy="266" rx="1.5" ry="1.9" fill="#fff" stroke="#333" stroke-width="0.7"/>
<ellipse cx="449.2" cy="278" rx="1.5" ry="1.9" fill="#fff" stroke="#333" stroke-width="0.7"/>
<ellipse cx="470.2" cy="290.5" rx="1.5" ry="1.9" fill="#fff" stroke="#333" stroke-width="0.7"/>
<ellipse cx="491.2" cy="286.7" rx="1.5" ry="1.9" fill="#fff" stroke="#333" stroke-width="0.7"/>
<ellipse cx="512.6" cy="286" rx="1.5" ry="1.9" fill="#fff" stroke="#333" stroke-width="0.7"/>
<text transform="translate(401.1,273) rotate(-90)" font-size="3.9" font-weight="bold" text-anchor="middle" fill="#111" stroke="#111" stroke-width="0.2">Chymotrypsin-like Activity</text>
<text transform="translate(405.1,273.5) rotate(-90)" font-size="3.9" font-weight="bold" text-anchor="middle" fill="#111" stroke="#111" stroke-width="0.2">(RFU)</text>
<text x="491" y="282.3" font-size="5.6" fill="#111">* <tspan font-style="italic">P</tspan> &lt; <tspan dx="1.8">.01</tspan></text>
<line x1="474" y1="247" x2="486.7" y2="247" stroke="#3a3a3a" stroke-width="1.3"/>
<circle cx="480.3" cy="247" r="1.4" fill="#fff" stroke="#222" stroke-width="0.9"/>
<line x1="474" y1="253.6" x2="486.7" y2="253.6" stroke="#111" stroke-width="1.5"/>
<polygon points="478,253.6 480.3,251.2 482.6,253.6 480.3,256" fill="#000"/>
<text x="489" y="248.7" font-size="5.45" font-weight="normal" font-style="normal" text-anchor="start" fill="#222" >bortezomib</text>
<text x="489" y="255.5" font-size="5.6" font-weight="normal" font-style="normal" text-anchor="start" fill="#222" >NPI-0052</text>
<line x1="418.2" y1="328.8" x2="418.2" y2="384.5" stroke="#000" stroke-width="1.2"/>
<line x1="416.7" y1="384.5" x2="520" y2="384.5" stroke="#000" stroke-width="1.3"/>
<line x1="416.5" y1="384.5" x2="418.2" y2="384.5" stroke="#000" stroke-width="0.8"/>
<text x="416.0" y="385.7" font-size="3.3" font-weight="bold" font-style="normal" text-anchor="end" fill="#222" stroke="#222" stroke-width="0.12">0</text>
<line x1="416.5" y1="377.5875" x2="418.2" y2="377.5875" stroke="#000" stroke-width="0.8"/>
<text x="416.0" y="378.78749999999997" font-size="3.3" font-weight="bold" font-style="normal" text-anchor="end" fill="#222" stroke="#222" stroke-width="0.12">200</text>
<line x1="416.5" y1="370.675" x2="418.2" y2="370.675" stroke="#000" stroke-width="0.8"/>
<text x="416.0" y="371.875" font-size="3.3" font-weight="bold" font-style="normal" text-anchor="end" fill="#222" stroke="#222" stroke-width="0.12">400</text>
<line x1="416.5" y1="363.7625" x2="418.2" y2="363.7625" stroke="#000" stroke-width="0.8"/>
<text x="416.0" y="364.9625" font-size="3.3" font-weight="bold" font-style="normal" text-anchor="end" fill="#222" stroke="#222" stroke-width="0.12">600</text>
<line x1="416.5" y1="356.85" x2="418.2" y2="356.85" stroke="#000" stroke-width="0.8"/>
<text x="416.0" y="358.05" font-size="3.3" font-weight="bold" font-style="normal" text-anchor="end" fill="#222" stroke="#222" stroke-width="0.12">800</text>
<line x1="416.5" y1="349.9375" x2="418.2" y2="349.9375" stroke="#000" stroke-width="0.8"/>
<text x="416.0" y="351.1375" font-size="3.3" font-weight="bold" font-style="normal" text-anchor="end" fill="#222" stroke="#222" stroke-width="0.12">1000</text>
<line x1="416.5" y1="343.025" x2="418.2" y2="343.025" stroke="#000" stroke-width="0.8"/>
<text x="416.0" y="344.22499999999997" font-size="3.3" font-weight="bold" font-style="normal" text-anchor="end" fill="#222" stroke="#222" stroke-width="0.12">1200</text>
<line x1="416.5" y1="336.1125" x2="418.2" y2="336.1125" stroke="#000" stroke-width="0.8"/>
<text x="416.0" y="337.3125" font-size="3.3" font-weight="bold" font-style="normal" text-anchor="end" fill="#222" stroke="#222" stroke-width="0.12">1400</text>
<line x1="416.5" y1="329.2" x2="418.2" y2="329.2" stroke="#000" stroke-width="0.8"/>
<text x="416.0" y="330.4" font-size="3.3" font-weight="bold" font-style="normal" text-anchor="end" fill="#222" stroke="#222" stroke-width="0.12">1600</text>
<line x1="431.6" y1="384.5" x2="431.6" y2="386.0" stroke="#000" stroke-width="0.6"/>
<text x="431.6" y="389.8" font-size="3.7" font-weight="bold" font-style="normal" text-anchor="middle" fill="#111" stroke="#111" stroke-width="0.15">0</text>
<line x1="458" y1="384.5" x2="458" y2="386.0" stroke="#000" stroke-width="0.6"/>
<text x="458" y="389.8" font-size="3.7" font-weight="bold" font-style="normal" text-anchor="middle" fill="#111" stroke="#111" stroke-width="0.15">.05</text>
<line x1="485" y1="384.5" x2="485" y2="386.0" stroke="#000" stroke-width="0.6"/>
<text x="485" y="389.8" font-size="3.7" font-weight="bold" font-style="normal" text-anchor="middle" fill="#111" stroke="#111" stroke-width="0.15">0.2</text>
<line x1="511.7" y1="384.5" x2="511.7" y2="386.0" stroke="#000" stroke-width="0.6"/>
<text x="511.7" y="389.8" font-size="3.7" font-weight="bold" font-style="normal" text-anchor="middle" fill="#111" stroke="#111" stroke-width="0.15">0.5</text>
<text x="475" y="397.6" font-size="4.5" font-weight="bold" font-style="normal" text-anchor="middle" fill="#000" stroke="#000" stroke-width="0.15">(µM)</text>
<polyline fill="none" stroke="#858585" stroke-width="0.9" points="431.6,338.7 458,366.7 485,368 511.7,378"/>
<polyline fill="none" stroke="#606060" stroke-width="0.9" points="431.6,338.7 458,376.2 485,377.7 511.7,377"/>
<polygon points="429.8,338.7 431.6,336.8 433.40000000000003,338.7 431.6,340.59999999999997" fill="#000"/>
<polygon points="456.2,376.2 458,374.3 459.8,376.2 458,378.09999999999997" fill="#000"/>
<polygon points="483.2,377.7 485,375.8 486.8,377.7 485,379.59999999999997" fill="#000"/>
<polygon points="509.9,377 511.7,375.1 513.5,377 511.7,378.9" fill="#000"/>
<rect x="430.0" y="337.09999999999997" width="3.2" height="3.2" fill="#fff" stroke="#444" stroke-width="0.7"/>
<rect x="456.4" y="365.09999999999997" width="3.2" height="3.2" fill="#fff" stroke="#444" stroke-width="0.7"/>
<rect x="483.4" y="366.4" width="3.2" height="3.2" fill="#fff" stroke="#444" stroke-width="0.7"/>
<rect x="510.09999999999997" y="376.4" width="3.2" height="3.2" fill="#fff" stroke="#444" stroke-width="0.7"/>
<text transform="translate(400.7,355) rotate(-90)" font-size="3.9" font-weight="bold" text-anchor="middle" fill="#111" stroke="#111" stroke-width="0.2">Caspase-like Activity</text>
<text transform="translate(405.1,355) rotate(-90)" font-size="3.9" font-weight="bold" text-anchor="middle" fill="#111" stroke="#111" stroke-width="0.2">(RFU)</text>
<text x="483.5" y="364" font-size="5.6" fill="#111">* <tspan font-style="italic">P</tspan> &lt; <tspan dx="1.8">.01</tspan></text>
<line x1="418.4" y1="397.6" x2="418.4" y2="493.9" stroke="#000" stroke-width="1.2"/>
<line x1="416.9" y1="493.9" x2="520" y2="493.9" stroke="#000" stroke-width="1.3"/>
<line x1="416.7" y1="493.9" x2="418.4" y2="493.9" stroke="#000" stroke-width="0.8"/>
<text x="416.2" y="495.09999999999997" font-size="3.3" font-weight="bold" font-style="normal" text-anchor="end" fill="#222" stroke="#222" stroke-width="0.12">0</text>
<line x1="416.7" y1="484.5833333333333" x2="418.4" y2="484.5833333333333" stroke="#000" stroke-width="0.8"/>
<text x="416.2" y="485.7833333333333" font-size="3.3" font-weight="bold" font-style="normal" text-anchor="end" fill="#222" stroke="#222" stroke-width="0.12">2000</text>
<line x1="416.7" y1="475.26666666666665" x2="418.4" y2="475.26666666666665" stroke="#000" stroke-width="0.8"/>
<text x="416.2" y="476.46666666666664" font-size="3.3" font-weight="bold" font-style="normal" text-anchor="end" fill="#222" stroke="#222" stroke-width="0.12">4000</text>
<line x1="416.7" y1="465.95" x2="418.4" y2="465.95" stroke="#000" stroke-width="0.8"/>
<text x="416.2" y="467.15" font-size="3.3" font-weight="bold" font-style="normal" text-anchor="end" fill="#222" stroke="#222" stroke-width="0.12">6000</text>
<line x1="416.7" y1="456.6333333333333" x2="418.4" y2="456.6333333333333" stroke="#000" stroke-width="0.8"/>
<text x="416.2" y="457.8333333333333" font-size="3.3" font-weight="bold" font-style="normal" text-anchor="end" fill="#222" stroke="#222" stroke-width="0.12">8000</text>
<line x1="416.7" y1="447.31666666666666" x2="418.4" y2="447.31666666666666" stroke="#000" stroke-width="0.8"/>
<text x="416.2" y="448.51666666666665" font-size="3.3" font-weight="bold" font-style="normal" text-anchor="end" fill="#222" stroke="#222" stroke-width="0.12">10000</text>
<line x1="416.7" y1="438.0" x2="418.4" y2="438.0" stroke="#000" stroke-width="0.8"/>
<text x="416.2" y="439.2" font-size="3.3" font-weight="bold" font-style="normal" text-anchor="end" fill="#222" stroke="#222" stroke-width="0.12">12000</text>
<line x1="428.7" y1="493.9" x2="428.7" y2="495.4" stroke="#000" stroke-width="0.6"/>
<text x="434.5" y="499.2" font-size="3.7" font-weight="bold" font-style="normal" text-anchor="middle" fill="#111" stroke="#111" stroke-width="0.15">0</text>
<line x1="450" y1="493.9" x2="450" y2="495.4" stroke="#000" stroke-width="0.6"/>
<text x="453.7" y="499.2" font-size="3.7" font-weight="bold" font-style="normal" text-anchor="middle" fill="#111" stroke="#111" stroke-width="0.15">.01</text>
<line x1="470.5" y1="493.9" x2="470.5" y2="495.4" stroke="#000" stroke-width="0.6"/>
<text x="470.5" y="499.2" font-size="3.7" font-weight="bold" font-style="normal" text-anchor="middle" fill="#111" stroke="#111" stroke-width="0.15">.05</text>
<line x1="492" y1="493.9" x2="492" y2="495.4" stroke="#000" stroke-width="0.6"/>
<text x="492" y="499.2" font-size="3.7" font-weight="bold" font-style="normal" text-anchor="middle" fill="#111" stroke="#111" stroke-width="0.15">0.2</text>
<line x1="512.5" y1="493.9" x2="512.5" y2="495.4" stroke="#000" stroke-width="0.6"/>
<text x="513" y="499.2" font-size="3.7" font-weight="bold" font-style="normal" text-anchor="middle" fill="#111" stroke="#111" stroke-width="0.15">0.5</text>
<text x="474.5" y="505.8" font-size="4.5" font-weight="bold" font-style="normal" text-anchor="middle" fill="#000" stroke="#000" stroke-width="0.15">(µM)</text>
<line x1="428.7" y1="457.5" x2="428.7" y2="461.5" stroke="#666" stroke-width="0.6"/>
<line x1="427.59999999999997" y1="457.5" x2="429.8" y2="457.5" stroke="#666" stroke-width="0.6"/>
<line x1="427.59999999999997" y1="461.5" x2="429.8" y2="461.5" stroke="#666" stroke-width="0.6"/>
<line x1="450" y1="451.5" x2="450" y2="455" stroke="#666" stroke-width="0.6"/>
<line x1="448.9" y1="451.5" x2="451.1" y2="451.5" stroke="#666" stroke-width="0.6"/>
<line x1="448.9" y1="455" x2="451.1" y2="455" stroke="#666" stroke-width="0.6"/>
<line x1="470.5" y1="444.5" x2="470.5" y2="451" stroke="#666" stroke-width="0.6"/>
<line x1="469.4" y1="444.5" x2="471.6" y2="444.5" stroke="#666" stroke-width="0.6"/>
<line x1="469.4" y1="451" x2="471.6" y2="451" stroke="#666" stroke-width="0.6"/>
<line x1="492" y1="456" x2="492" y2="464.5" stroke="#666" stroke-width="0.6"/>
<line x1="490.9" y1="456" x2="493.1" y2="456" stroke="#666" stroke-width="0.6"/>
<line x1="490.9" y1="464.5" x2="493.1" y2="464.5" stroke="#666" stroke-width="0.6"/>
<line x1="470.5" y1="467.5" x2="470.5" y2="473" stroke="#666" stroke-width="0.6"/>
<line x1="469.4" y1="467.5" x2="471.6" y2="467.5" stroke="#666" stroke-width="0.6"/>
<line x1="469.4" y1="473" x2="471.6" y2="473" stroke="#666" stroke-width="0.6"/>
<polyline fill="none" stroke="#858585" stroke-width="0.9" points="428.7,459.5 450,453.2 470.5,447.7 492,460.2 512.5,454.5"/>
<polyline fill="none" stroke="#606060" stroke-width="0.9" points="428.7,459.5 450,456.2 470.5,470.2 492,471.2 512.5,472.7"/>
<polygon points="426.9,459.5 428.7,457.6 430.5,459.5 428.7,461.4" fill="#000"/>
<polygon points="448.2,456.2 450,454.3 451.8,456.2 450,458.09999999999997" fill="#000"/>
<polygon points="468.7,470.2 470.5,468.3 472.3,470.2 470.5,472.09999999999997" fill="#000"/>
<polygon points="490.2,471.2 492,469.3 493.8,471.2 492,473.09999999999997" fill="#000"/>
<polygon points="510.7,472.7 512.5,470.8 514.3,472.7 512.5,474.59999999999997" fill="#000"/>
<ellipse cx="428.7" cy="459.5" rx="1.5" ry="1.9" fill="#fff" stroke="#333" stroke-width="0.7"/>
<ellipse cx="450" cy="453.2" rx="1.5" ry="1.9" fill="#fff" stroke="#333" stroke-width="0.7"/>
<ellipse cx="470.5" cy="447.7" rx="1.5" ry="1.9" fill="#fff" stroke="#333" stroke-width="0.7"/>
<ellipse cx="492" cy="460.2" rx="1.5" ry="1.9" fill="#fff" stroke="#333" stroke-width="0.7"/>
<ellipse cx="512.5" cy="454.5" rx="1.5" ry="1.9" fill="#fff" stroke="#333" stroke-width="0.7"/>
<text transform="translate(400.7,462) rotate(-90)" font-size="3.9" font-weight="bold" text-anchor="middle" fill="#111" stroke="#111" stroke-width="0.2">Trypsin-like Activity</text>
<text transform="translate(405.1,463.5) rotate(-90)" font-size="3.9" font-weight="bold" text-anchor="middle" fill="#111" stroke="#111" stroke-width="0.2">(RFU)</text>
<text x="490.7" y="451" font-size="5.6" fill="#111">* <tspan font-style="italic">P</tspan> &lt; <tspan dx="1.8">.05</tspan></text>
</svg>
</body></html>
